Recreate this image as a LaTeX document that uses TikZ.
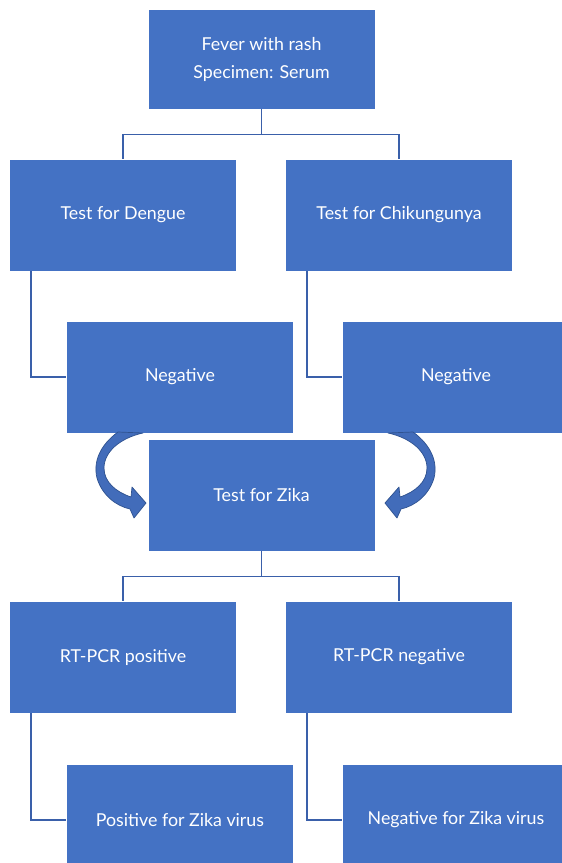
\documentclass[tikz,border=0pt]{standalone}
\usepackage{fontspec}
\setmainfont{Lato}
\usetikzlibrary{positioning,calc}

\definecolor{boxblue}{RGB}{68,114,196}
\definecolor{lineblue}{RGB}{58,96,170}
\definecolor{arrowblue}{RGB}{66,108,186}
\definecolor{arrowedge}{RGB}{47,82,143}

\begin{document}
\begin{tikzpicture}
[x=1pt,y=-1pt,
box/.style={draw=white,line width=.8pt,fill=boxblue,text=white,minimum width=227pt,minimum height=112pt,font=\fontsize{17.8}{28}\selectfont,align=center},
conn/.style={lineblue,line width=1.6pt},
curvearrow/.style={fill=arrowblue,draw=arrowedge,line width=.7pt,line join=round}]
\clip (0,0) rectangle (562,863);

% first test round
\node[box,minimum height=100pt] (fever) at (261.5,59) {Fever with rash\\Specimen: Serum};
\node[box] (dengue) at (123,215) {Test for Dengue};
\node[box] (chik) at (399,215) {Test for Chikungunya};
\node[box] (negL) at (180,377) {Negative};
\node[box] (negR) at (456,377) {Negative};
\draw[conn] (fever.south) -- ++(0,25) -| (dengue.north);
\draw[conn] (fever.south) -- ++(0,25) -| (chik.north);
\draw[conn] ([xshift=22pt]dengue.south west) |- (negL.west);
\draw[conn] ([xshift=22pt]chik.south west) |- (negR.west);

% zika round
\node[box] (zika) at (261.5,495) {Test for Zika};
\node[box] (pcrpos) at (123,657) {RT-PCR positive};
\node[box] (pcrneg) at (399,657) {RT-PCR negative};
\node[box] (zikapos) at (180,820) {Positive for Zika virus};
\node[box] (zikaneg) at (456,820) {Negative for Zika virus};
\draw[conn] (zika.south) -- ++(0,25) -| (pcrpos.north);
\draw[conn] (zika.south) -- ++(0,25) -| (pcrneg.north);
\draw[conn] ([xshift=22pt]pcrpos.south west) |- (zikapos.west);
\draw[conn] ([xshift=22pt]pcrneg.south west) |- (zikaneg.west);

% curved arrows into the zika test
\path[curvearrow] (118,432) .. controls (100,445) and (93,462) .. (97,478)
  .. controls (102,495) and (116,506) .. (130,509) -- (134,518) -- (146,503)
  -- (132,487) -- (131,497) .. controls (116,492) and (104,482) .. (104,468)
  .. controls (104,452) and (120,438) .. (143,433) -- cycle;
\begin{scope}[xshift=531pt,xscale=-1]
\path[curvearrow] (118,432) .. controls (100,445) and (93,462) .. (97,478)
  .. controls (102,495) and (116,506) .. (130,509) -- (134,518) -- (146,503)
  -- (132,487) -- (131,497) .. controls (116,492) and (104,482) .. (104,468)
  .. controls (104,452) and (120,438) .. (143,433) -- cycle;
\end{scope}
\end{tikzpicture}
\end{document}
